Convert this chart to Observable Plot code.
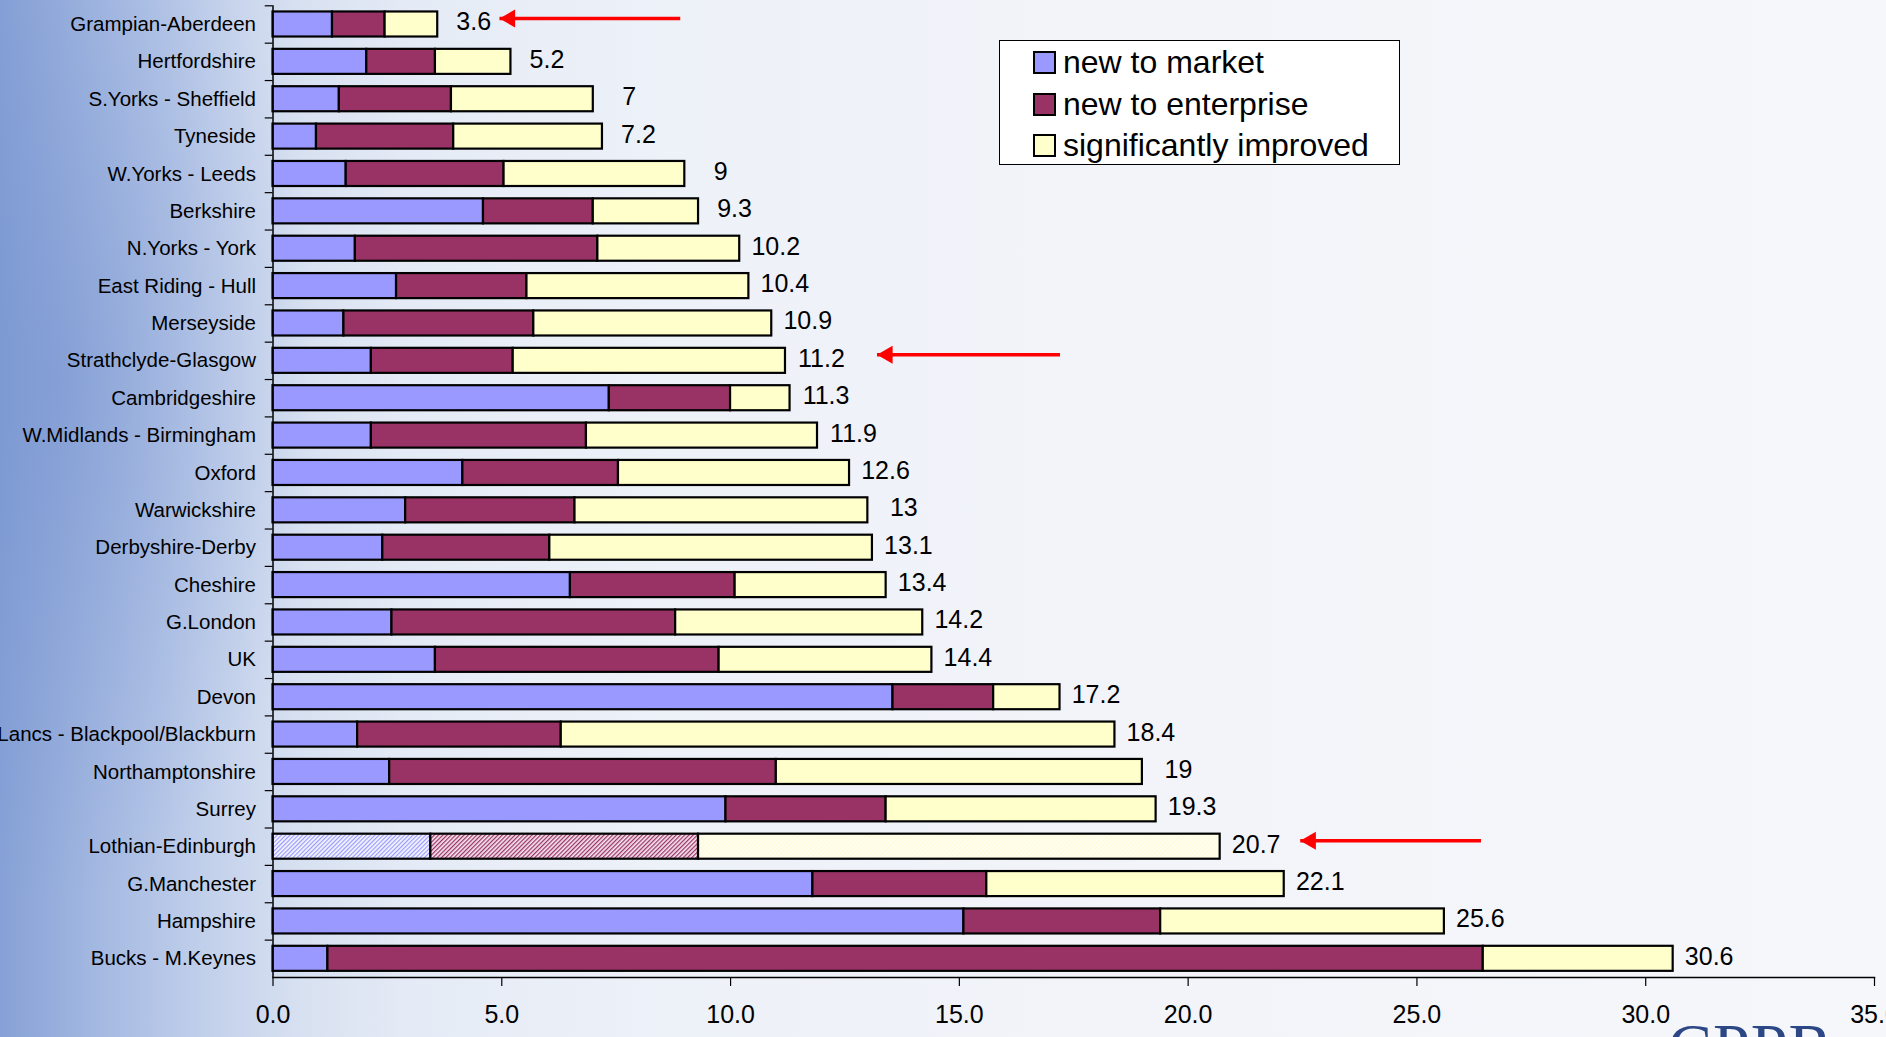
<!DOCTYPE html>
<html>
<head>
<meta charset="utf-8">
<script src="https://cdn.jsdelivr.net/npm/d3@7"></script>
<script src="https://cdn.jsdelivr.net/npm/@observablehq/plot@0.6"></script>
<style>
  html, body { margin: 0; padding: 0; }
  body {
    width: 1886px; height: 1037px; overflow: hidden; position: relative;
    font-family: "Liberation Sans", Arial, sans-serif;
    background:
      radial-gradient(ellipse 260px 520px at 60px 380px, rgba(110,140,205,0.45), rgba(110,140,205,0) 100%),
      linear-gradient(to right, #86a1d6 0%, #a3b8e1 5%, #c2d0eb 11%, #d8e1f1 16%, #e5ebf6 22%, #edf1f8 35%, #f2f4f9 60%, #f6f7fb 100%);
  }
  #chart { position: absolute; left: 0; top: 0; }
  #legend {
    position: absolute; left: 999px; top: 40px; width: 401px; height: 125px;
    border: 1.5px solid #000; background: #fff; box-sizing: border-box;
  }
  .lrow { position: absolute; left: 33px; height: 24px; display: flex; align-items: center; }
  .lsw { width: 19px; height: 19px; border: 2px solid #000; margin-right: 7px; flex: none; }
  .ltx { font-size: 32px; line-height: 32px; color: #000; white-space: nowrap; }
  #logo {
    position: absolute; left: 1668px; top: 1014px; font-family: "Liberation Serif", "DejaVu Serif", serif;
    font-size: 66px; line-height: 66px; color: #2c4786; letter-spacing: 1px;
  }
</style>
</head>
<body>
<div id="chart"></div>
<div id="legend"></div>
<div id="logo">CPPR</div>
<script>
// ---- data (top to bottom) ----
const regions = [
  "Grampian-Aberdeen", "Hertfordshire", "S.Yorks - Sheffield", "Tyneside", "W.Yorks - Leeds",
  "Berkshire", "N.Yorks - York", "East Riding - Hull", "Merseyside", "Strathclyde-Glasgow",
  "Cambridgeshire", "W.Midlands - Birmingham", "Oxford", "Warwickshire", "Derbyshire-Derby",
  "Cheshire", "G.London", "UK", "Devon", "Lancs - Blackpool/Blackburn",
  "Northamptonshire", "Surrey", "Lothian-Edinburgh", "G.Manchester", "Hampshire", "Bucks - M.Keynes"
];
const newToMarket = [1.3, 2.05, 1.45, 0.95, 1.6, 4.6, 1.8, 2.7, 1.55, 2.15, 7.35, 2.15, 4.15, 2.9, 2.4, 6.5, 2.6, 3.55, 13.55, 1.85, 2.55, 9.9, 3.45, 11.8, 15.1, 1.2];
const newToEnterprise = [1.15, 1.5, 2.45, 3.0, 3.45, 2.4, 5.3, 2.85, 4.15, 3.1, 2.65, 4.7, 3.4, 3.7, 3.65, 3.6, 6.2, 6.2, 2.2, 4.45, 8.45, 3.5, 5.85, 3.8, 4.3, 25.25];
const significantlyImproved = [1.15, 1.65, 3.1, 3.25, 3.95, 2.3, 3.1, 4.85, 5.2, 5.95, 1.3, 5.05, 5.05, 6.4, 7.05, 3.3, 5.4, 4.65, 1.45, 12.1, 8.0, 5.9, 11.4, 6.5, 6.2, 4.15];
const totals = [3.6, 5.2, 7, 7.2, 9, 9.3, 10.2, 10.4, 10.9, 11.2, 11.3, 11.9, 12.6, 13, 13.1, 13.4, 14.2, 14.4, 17.2, 18.4, 19, 19.3, 20.7, 22.1, 25.6, 30.6];
const seriesNames = ["new to market", "new to enterprise", "significantly improved"];
const xTicks = [0, 5, 10, 15, 20, 25, 30, 35];
const hatchedRegions = ["Lothian-Edinburgh"];
const arrowRegions = ["Grampian-Aberdeen", "Strathclyde-Glasgow", "Lothian-Edinburgh"];
const arrowTail = [8.9, 17.2, 26.4];
const arrowTip = [4.95, 13.2, 22.45];

// ---- styles ----
const colors = ["#9999ff", "#993366", "#ffffcc"];
const hatchFills = ["url(#hatch-blue)", "url(#hatch-maroon)", "url(#hatch-yellow)"];

// ---- build tables ----
const seriesValues = [newToMarket, newToEnterprise, significantlyImproved];
const rows = [];
regions.forEach((region, i) => {
  let acc = 0;
  seriesNames.forEach((s, k) => {
    const v = seriesValues[k][i];
    rows.push({region, series: s, k, x1: acc, x2: acc + v, hatched: hatchedRegions.includes(region)});
    acc += v;
  });
});
const totalRows = regions.map((region, i) => ({region, total: totals[i]}));
const arrows = arrowRegions.map((region, i) => ({region, tail: arrowTail[i], tip: arrowTip[i]}));

const W = 1886, H = 1037;
const mTop = 5.3, mBottom = 60, mLeft = 272.5, mRight = 12;
const step = (H - mTop - mBottom) / regions.length;

const plot = Plot.plot({
  width: W, height: H,
  marginTop: mTop, marginBottom: mBottom, marginLeft: mLeft, marginRight: mRight,
  style: {background: "transparent", fontFamily: "'Liberation Sans', Arial, sans-serif", color: "#000", overflow: "visible"},
  x: {domain: [0, 35]},
  y: {domain: regions, paddingInner: 0.33, paddingOuter: 0.165, round: false},
  color: {type: "identity"},
  marks: [
    Plot.barX(rows, {
      y: "region", x1: "x1", x2: "x2",
      fill: d => d.hatched ? hatchFills[d.k] : colors[d.k],
      stroke: "#000", strokeWidth: 2.2
    }),
    Plot.ruleX([0], {stroke: "#000", strokeWidth: 1.5}),
    Plot.ruleY(regions, {y: d => d, x1: -0.17, x2: 0, dy: -step / 2, stroke: "#000", strokeWidth: 1.2}),
    Plot.frame({anchor: "bottom", stroke: "#000", strokeWidth: 1.5}),
    Plot.axisY({tickSize: 0, tickPadding: 17, fontSize: 20.5, label: null}),
    Plot.axisX({ticks: xTicks, tickFormat: d => d.toFixed(1), tickSize: 9, tickPadding: 19, fontSize: 25, label: null, strokeWidth: 1.2}),
    Plot.text(totalRows, {y: "region", x: "total", text: d => String(d.total), dx: 36, dy: -2, fontSize: 25, fill: "#000"}),
    Plot.link(arrows, {y1: "region", y2: "region", x1: "tail", x2: "tip", stroke: "#ff0000", strokeWidth: 3.5, dy: -6}),
    Plot.dot(arrows, {y: "region", x: "tip", symbol: "triangle", r: 6.7, fill: "#ff0000", stroke: "none", rotate: -90, dx: 10.4, dy: -6})
  ]
});

plot.insertAdjacentHTML("afterbegin", `
<defs>
  <pattern id="hatch-blue" width="3" height="3" patternUnits="userSpaceOnUse" patternTransform="rotate(45)">
    <rect width="3" height="3" fill="#f2f2ff"/>
    <line x1="0.5" y1="0" x2="0.5" y2="3" stroke="#9999ff" stroke-width="1.2"/>
  </pattern>
  <pattern id="hatch-maroon" width="3" height="3" patternUnits="userSpaceOnUse" patternTransform="rotate(45)">
    <rect width="3" height="3" fill="#f6e6ee"/>
    <line x1="0.5" y1="0" x2="0.5" y2="3" stroke="#993366" stroke-width="1.5"/>
  </pattern>
  <pattern id="hatch-yellow" width="3" height="3" patternUnits="userSpaceOnUse" patternTransform="rotate(45)">
    <rect width="3" height="3" fill="#fffff0"/>
    <line x1="0.5" y1="0" x2="0.5" y2="3" stroke="#fffad8" stroke-width="1.2"/>
  </pattern>
</defs>`);

document.getElementById("chart").appendChild(plot);

// legend
const legend = document.getElementById("legend");
const rowTops = [9, 51, 92];
seriesNames.forEach((s, k) => {
  const row = document.createElement("div");
  row.className = "lrow";
  row.style.top = rowTops[k] + "px";
  row.innerHTML = `<div class="lsw" style="background:${colors[k]}"></div><div class="ltx">${s}</div>`;
  legend.appendChild(row);
});
</script>
</body>
</html>
